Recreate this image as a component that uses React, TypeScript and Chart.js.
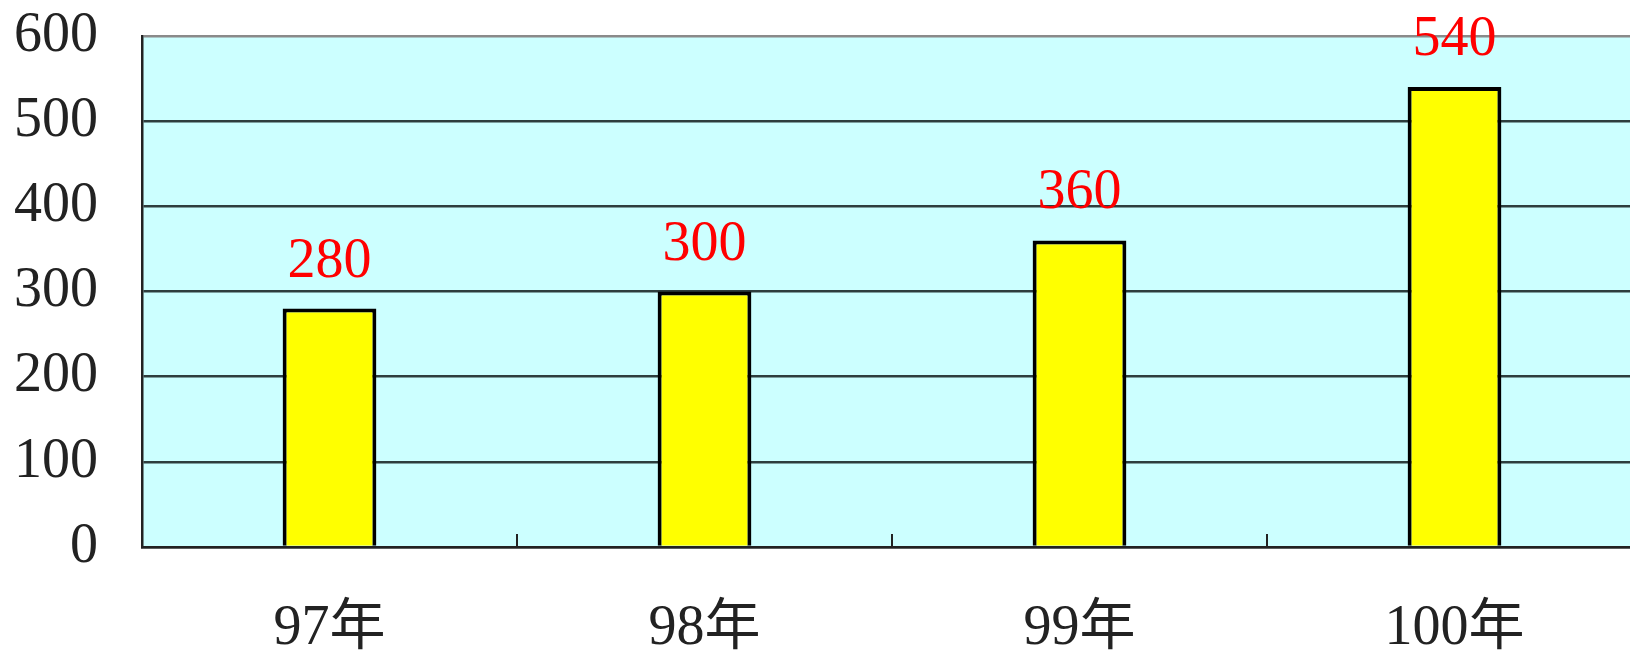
import React, { useEffect, useRef } from "react";
import { Chart, registerables } from "chart.js";

Chart.register(...registerables);

const categories = ["97年", "98年", "99年", "100年"];
const values = [280, 300, 360, 540];
const yTicks = [0, 100, 200, 300, 400, 500, 600];

const bgPlugin = {
  id: "plotBg",
  beforeDraw(chart: any) {
    const { ctx, chartArea } = chart;
    ctx.save();
    ctx.fillStyle = "#CCFFFF";
    ctx.fillRect(chartArea.left, chartArea.top, chartArea.right - chartArea.left, chartArea.bottom - chartArea.top);
    ctx.restore();
  },
};

const innerTicks = {
  id: "innerTicks",
  afterDatasetsDraw(chart: any) {
    const { ctx, chartArea } = chart;
    const xs = chart.scales.x;
    ctx.save();
    ctx.strokeStyle = "#222";
    ctx.lineWidth = 2;
    for (let i = 1; i < categories.length; i++) {
      const x = (xs.getPixelForValue(i - 1) + xs.getPixelForValue(i)) / 2;
      ctx.beginPath();
      ctx.moveTo(x, chartArea.bottom);
      ctx.lineTo(x, chartArea.bottom - 13);
      ctx.stroke();
    }
    ctx.restore();
  },
};

const valueLabels = {
  id: "valueLabels",
  afterDatasetsDraw(chart: any) {
    const { ctx } = chart;
    const meta = chart.getDatasetMeta(0);
    ctx.save();
    ctx.fillStyle = "#FF0000";
    ctx.font = "56px 'Liberation Serif', serif";
    ctx.textAlign = "center";
    ctx.textBaseline = "alphabetic";
    meta.data.forEach((bar: any, i: number) => {
      ctx.fillText(String(values[i]), bar.x, bar.y - 32);
    });
    ctx.restore();
  },
};

export default function App() {
  const ref = useRef<HTMLCanvasElement>(null);
  useEffect(() => {
    if (!ref.current) return;
    const chart = new Chart(ref.current, {
      type: "bar",
      data: {
        labels: categories,
        datasets: [
          {
            data: values,
            backgroundColor: "#FFFF00",
            borderColor: "#000000",
            borderWidth: 4,
            barPercentage: 0.25,
            categoryPercentage: 1,
          },
        ],
      },
      plugins: [bgPlugin, innerTicks, valueLabels],
      options: {
        animation: false,
        responsive: false,
        devicePixelRatio: 1,
        layout: { padding: { top: 36, right: 0, left: 0, bottom: 0 } },
        plugins: { legend: { display: false }, tooltip: { enabled: false } },
        scales: {
          x: {
            grid: { display: false, drawTicks: false },
            border: { display: true, color: "#222", width: 2.5 },
            ticks: {
              color: "#222",
              font: { family: "'Liberation Serif', 'Noto Sans CJK TC', serif", size: 56 },
              padding: 49,
            },
            afterFit(scale: any) {
              scale.height = 650 - 547;
              scale.paddingLeft = 0;
              scale.paddingRight = 0;
            },
          },
          y: {
            min: 0,
            max: 600,
            afterBuildTicks(scale: any) {
              scale.ticks = yTicks.map((v) => ({ value: v }));
            },
            grid: {
              color: (c: any) => (c.tick && c.tick.value === 600 ? "#8a8a8a" : "#2e3e3e"),
              lineWidth: 2.5,
              drawTicks: false,
            },
            border: { display: true, color: "#222", width: 2.5 },
            ticks: {
              color: "#222",
              font: { family: "'Liberation Serif', serif", size: 56 },
              padding: 44,
            },
            afterFit(scale: any) {
              scale.width = 142;
              scale.paddingTop = 0;
              scale.paddingBottom = 0;
            },
          },
        },
      },
    });
    return () => chart.destroy();
  }, []);
  return (
    <div style={{ position: "fixed", left: 0, top: 0, width: 1630, height: 650, overflow: "hidden", background: "#fff" }}>
      <canvas ref={ref} width={1642} height={650} style={{ display: "block", width: 1642, height: 650 }} />
    </div>
  );
}
